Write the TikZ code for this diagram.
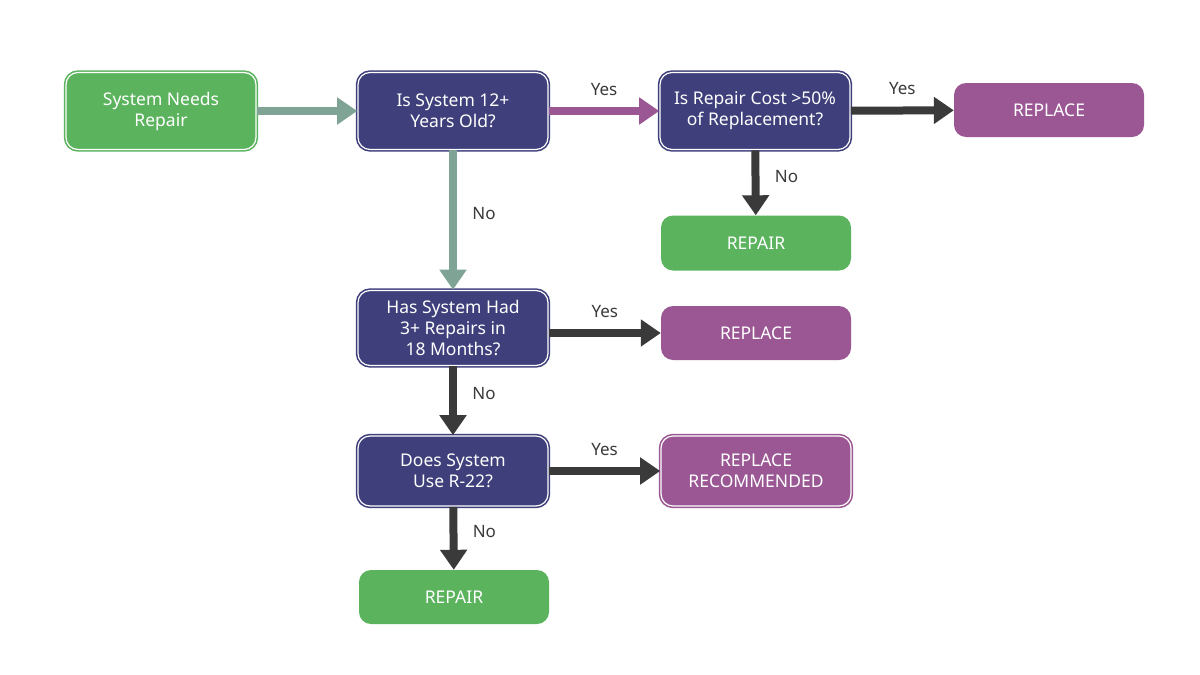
\documentclass[tikz,border=0pt]{standalone}
\usepackage{fontspec}
\setmainfont{Noto Sans}
\usetikzlibrary{arrows.meta}
\definecolor{gr}{HTML}{5BB35E}
\definecolor{nv}{HTML}{3E3F7B}
\definecolor{pu}{HTML}{9A5794}
\definecolor{tl}{HTML}{7FA495}
\definecolor{dk}{HTML}{3A3A3A}
\tikzset{
 box/.style={rounded corners=12pt, minimum width=190pt, align=center, text=white, font=\fontsize{17.5}{21}\selectfont, inner sep=2pt},
 dbl/.style={draw=#1, fill=#1, double=white, double distance=1.2pt, line width=1.6pt},
 sgl/.style={fill=#1},
 arr/.style={draw=#1, line width=8pt, -{Triangle[length=20pt,width=26pt]}},
 lab/.style={font=\fontsize{17}{19}\selectfont, text=dk}
}
\begin{document}
\begin{tikzpicture}[x=1pt,y=-1pt]
\useasboundingbox (0,0) rectangle (1200,675);
\fill[white] (0,0) rectangle (1200,675);
\node[box,dbl=gr,minimum height=77pt] (n1) at (161,111) {System Needs\\Repair};
\node[box,dbl=nv,minimum height=77pt] (q1) at (453,111) {Is System 12+\\Years Old?};
\node[box,dbl=nv,minimum height=77pt] (q2) at (755,111) {Is Repair Cost >50\%\\of Replacement?};
\node[box,sgl=pu,minimum height=54pt] (r1) at (1049,110) {REPLACE};
\node[box,sgl=gr,minimum height=55pt] (p1) at (756,243) {REPAIR};
\node[box,dbl=nv,minimum height=75pt] (q3) at (453,328) {Has System Had\\3+ Repairs in\\18 Months?};
\node[box,sgl=pu,minimum height=54pt] (r2) at (756,333) {REPLACE};
\node[box,dbl=nv,minimum height=70pt] (q4) at (453,471) {Does System\\Use R-22?};
\node[box,dbl=pu,minimum height=70pt] (rr) at (756,471) {REPLACE\\RECOMMENDED};
\node[box,sgl=gr,minimum height=54pt] (p2) at (454,597) {REPAIR};
\draw[arr=tl] (n1) -- (q1);
\draw[arr=pu] (q1) -- (q2) node[lab,midway,above=8pt] (y1) {Yes};
\draw[arr=dk] (q2) -- (r1) node[lab,midway,above=8pt] (y2) {Yes};
\draw[arr=dk] (q2) -- (p1) node[lab,pos=0.4,right=12pt] (o1) {No};
\draw[arr=tl] (q1) -- (q3) node[lab,pos=0.45,right=12pt] (o2) {No};
\draw[arr=dk] (q3.east|-r2) -- (r2) node[lab,midway,above=8pt] (y3) {Yes};
\draw[arr=dk] (q3) -- (q4) node[lab,pos=0.4,right=12pt] (o3) {No};
\draw[arr=dk] (q4) -- (rr) node[lab,midway,above=8pt] (y4) {Yes};
\draw[arr=dk] (q4) -- (p2) node[lab,pos=0.4,right=12pt] (o4) {No};
\end{tikzpicture}
\end{document}
